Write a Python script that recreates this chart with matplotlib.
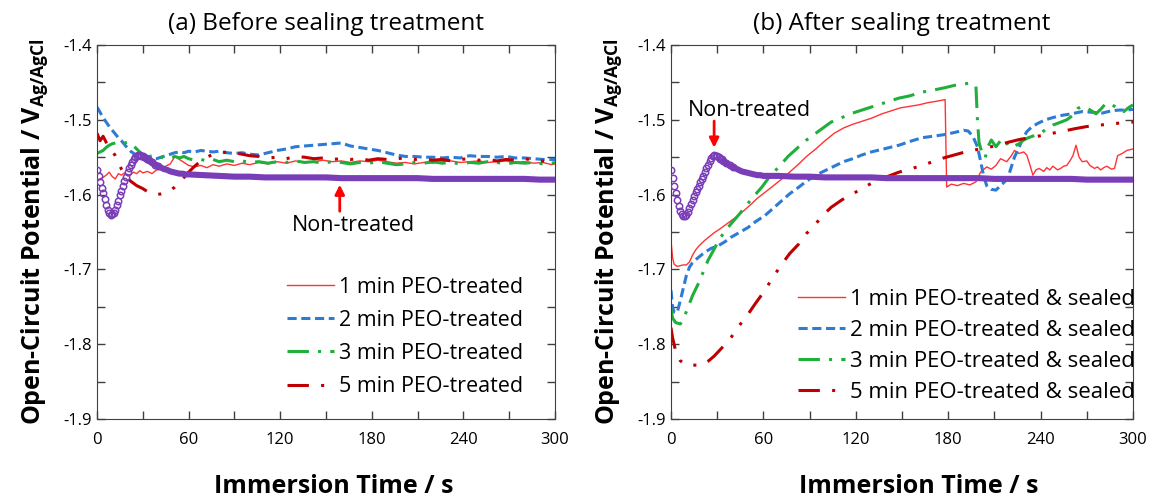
import matplotlib
matplotlib.use("Agg")
import matplotlib.pyplot as plt
from matplotlib.ticker import MultipleLocator

plt.rcParams['font.family'] = ['Open Sans', 'DejaVu Sans']
plt.rcParams['mathtext.default'] = 'regular'
plt.rcParams['axes.unicode_minus'] = False

# ---------------- (a) before sealing ----------------
t_left = [0, 2, 4, 6, 8, 10, 12, 14, 16, 18, 20, 22, 24, 26, 28, 30,
          33, 36, 39, 42, 45, 48, 51, 54, 57, 60, 64, 68, 72, 76, 80,
          85, 90, 95, 100, 106, 112, 118, 124, 130, 136, 142, 148, 154,
          160, 166, 172, 178, 184, 190, 196, 202, 208, 214, 220, 226,
          232, 238, 244, 250, 256, 262, 268, 274, 280, 286, 292, 298, 300]

left_1min = [-1.581, -1.579, -1.577, -1.574, -1.570, -1.576, -1.579, -1.572, -1.574, -1.571,
             -1.575, -1.573, -1.570, -1.572, -1.568, -1.571, -1.569, -1.572, -1.567, -1.565,
             -1.562, -1.559, -1.549, -1.553, -1.557, -1.561, -1.563, -1.561, -1.564, -1.560,
             -1.562, -1.559, -1.561, -1.558, -1.560, -1.557, -1.559, -1.556, -1.558, -1.555,
             -1.557, -1.556, -1.554, -1.556, -1.555, -1.557, -1.555, -1.556, -1.554, -1.556,
             -1.558, -1.557, -1.559, -1.557, -1.558, -1.556, -1.555, -1.557, -1.556, -1.555,
             -1.557, -1.556, -1.555, -1.557, -1.556, -1.558, -1.557, -1.560, -1.559]

left_2min = [-1.483, -1.490, -1.497, -1.503, -1.509, -1.514, -1.519, -1.524, -1.528, -1.533,
             -1.538, -1.542, -1.545, -1.547, -1.548, -1.549, -1.551, -1.552, -1.552, -1.550,
             -1.548, -1.546, -1.544, -1.543, -1.544, -1.542, -1.543, -1.541, -1.542, -1.543,
             -1.542, -1.544, -1.545, -1.544, -1.546, -1.547, -1.544, -1.541, -1.539, -1.536,
             -1.535, -1.534, -1.533, -1.532, -1.531, -1.535, -1.537, -1.539, -1.541, -1.544,
             -1.547, -1.549, -1.549, -1.550, -1.550, -1.551, -1.550, -1.551, -1.548, -1.549,
             -1.549, -1.550, -1.549, -1.551, -1.551, -1.552, -1.553, -1.553, -1.553]

left_3min = [-1.545, -1.543, -1.541, -1.537, -1.534, -1.532, -1.531, -1.532, -1.530, -1.531,
             -1.530, -1.531, -1.535, -1.539, -1.543, -1.547, -1.550, -1.548, -1.547, -1.550,
             -1.552, -1.551, -1.549, -1.551, -1.549, -1.552, -1.554, -1.553, -1.555, -1.553,
             -1.556, -1.554, -1.556, -1.555, -1.557, -1.556, -1.558, -1.556, -1.557, -1.555,
             -1.557, -1.556, -1.558, -1.556, -1.557, -1.559, -1.557, -1.558, -1.556, -1.558,
             -1.560, -1.559, -1.557, -1.558, -1.556, -1.558, -1.557, -1.559, -1.557, -1.558,
             -1.556, -1.557, -1.559, -1.557, -1.558, -1.557, -1.559, -1.558, -1.557]

left_5min = [-1.518, -1.528, -1.522, -1.530, -1.536, -1.542, -1.548, -1.556, -1.566, -1.573,
             -1.578, -1.582, -1.585, -1.588, -1.590, -1.592, -1.596, -1.599, -1.600, -1.599,
             -1.597, -1.594, -1.590, -1.584, -1.577, -1.570, -1.562, -1.555, -1.550, -1.546,
             -1.545, -1.543, -1.544, -1.546, -1.548, -1.549, -1.551, -1.550, -1.552, -1.549,
             -1.550, -1.552, -1.551, -1.553, -1.552, -1.553, -1.552, -1.554, -1.552, -1.553,
             -1.552, -1.551, -1.553, -1.552, -1.554, -1.553, -1.555, -1.553, -1.552, -1.554,
             -1.553, -1.555, -1.553, -1.554, -1.552, -1.554, -1.555, -1.555, -1.555]

# non-treated reference (purple circles)
t_nt = [0, 1, 2, 3, 4, 5, 6, 7, 8, 9, 10, 11, 12, 13, 14, 15, 16, 17, 18, 19,
        20, 21, 22, 23, 24, 25, 26, 27, 28, 29, 30, 31, 32, 33, 34,
        36, 38, 40, 42, 44, 46, 48, 50, 52, 54, 56, 58, 60,
        70, 80, 90, 100, 110, 120, 130, 140, 150, 160, 170, 180, 190, 200,
        210, 220, 230, 240, 250, 260, 270, 280, 290, 300]

left_nt = [-1.567, -1.575, -1.583, -1.591, -1.598, -1.606, -1.614, -1.620, -1.625, -1.627,
           -1.626, -1.624, -1.620, -1.614, -1.608, -1.601, -1.595, -1.588, -1.582, -1.576,
           -1.570, -1.565, -1.561, -1.557, -1.553, -1.550, -1.548, -1.547, -1.547, -1.548,
           -1.549, -1.550, -1.551, -1.553, -1.554,
           -1.557, -1.560, -1.562, -1.564, -1.566, -1.567, -1.569, -1.570, -1.571, -1.572,
           -1.572, -1.573, -1.573,
           -1.574, -1.575, -1.576, -1.576, -1.577, -1.577, -1.577, -1.577, -1.577, -1.578,
           -1.578, -1.578, -1.578, -1.578, -1.578, -1.579, -1.579, -1.579, -1.579, -1.579,
           -1.579, -1.579, -1.580, -1.580]

right_nt = [-1.567, -1.578, -1.588, -1.598, -1.607, -1.615, -1.622, -1.626, -1.628, -1.628,
            -1.627, -1.623, -1.618, -1.612, -1.607, -1.602, -1.597, -1.592, -1.588, -1.583,
            -1.579, -1.575, -1.570, -1.565, -1.560, -1.555, -1.551, -1.548, -1.547, -1.548,
            -1.549, -1.550, -1.552, -1.553, -1.555,
            -1.558, -1.561, -1.563, -1.565, -1.567, -1.569, -1.570, -1.571, -1.572, -1.573,
            -1.574, -1.574, -1.575,
            -1.575, -1.576, -1.576, -1.577, -1.577, -1.577, -1.577, -1.578, -1.578, -1.578,
            -1.578, -1.578, -1.578, -1.578, -1.579, -1.579, -1.579, -1.579, -1.579, -1.579,
            -1.580, -1.580, -1.580, -1.580]

# ---------------- (b) after sealing ----------------
t_r1 = [0, 1, 2, 4, 6, 8, 10, 12, 14, 16, 18, 20, 22, 25, 28, 31, 35, 39, 43, 47,
        52, 56, 61, 66, 72, 77, 83, 88, 94, 100, 106, 112, 118, 124, 130, 137, 143,
        149, 155, 161, 167, 173, 178, 179, 182, 186, 190, 194, 198, 201, 205, 208,
        211, 214, 218, 221, 223, 226, 229, 231, 233, 235, 237, 239, 242, 244, 246,
        248, 251, 253, 255, 257, 259, 261, 263, 265, 267, 270, 272, 275, 277, 279,
        281, 283, 286, 288, 290, 293, 296, 300]
right_1min = [-1.661, -1.684, -1.693, -1.696, -1.695, -1.694, -1.694, -1.690, -1.681, -1.674,
              -1.669, -1.665, -1.661, -1.656, -1.651, -1.647, -1.641, -1.635, -1.629, -1.622,
              -1.613, -1.605, -1.597, -1.589, -1.579, -1.570, -1.559, -1.549, -1.539, -1.528,
              -1.518, -1.511, -1.506, -1.502, -1.498, -1.492, -1.488, -1.484, -1.482, -1.480,
              -1.477, -1.475, -1.473, -1.590, -1.586, -1.588, -1.585, -1.587, -1.583, -1.570,
              -1.563, -1.566, -1.561, -1.552, -1.556, -1.548, -1.541, -1.545, -1.543, -1.547,
              -1.560, -1.574, -1.567, -1.565, -1.569, -1.564, -1.567, -1.562, -1.567, -1.565,
              -1.562, -1.561, -1.555, -1.548, -1.534, -1.550, -1.556, -1.555, -1.561, -1.565,
              -1.563, -1.567, -1.564, -1.562, -1.566, -1.565, -1.548, -1.545, -1.541, -1.539]

t_r2 = [0, 1, 2, 4, 6, 8, 10, 12, 14, 16, 19, 22, 26, 31, 35, 39, 45, 50, 55, 61,
        66, 72, 77, 83, 88, 94, 100, 106, 112, 118, 124, 130, 138, 148, 155, 163,
        170, 177, 184, 190, 193, 196, 199, 201, 203, 205, 208, 211, 214, 217, 219,
        221, 223, 226, 228, 231, 234, 238, 243, 248, 254, 260, 267, 274, 280, 286,
        291, 296, 300]
right_2min = [-1.728, -1.750, -1.757, -1.758, -1.742, -1.725, -1.708, -1.697, -1.691, -1.687,
              -1.682, -1.677, -1.672, -1.668, -1.663, -1.657, -1.650, -1.644, -1.636, -1.628,
              -1.619, -1.608, -1.599, -1.590, -1.582, -1.574, -1.568, -1.562, -1.556, -1.552,
              -1.547, -1.543, -1.539, -1.534, -1.529, -1.524, -1.522, -1.520, -1.517, -1.514,
              -1.515, -1.522, -1.536, -1.555, -1.575, -1.588, -1.593, -1.594, -1.588, -1.582,
              -1.576, -1.563, -1.550, -1.537, -1.527, -1.516, -1.510, -1.505, -1.500, -1.497,
              -1.494, -1.492, -1.489, -1.490, -1.491, -1.488, -1.487, -1.487, -1.486]

t_r3 = [0, 1, 3, 6, 8, 11, 14, 18, 21, 24, 28, 31, 35, 39, 44, 48, 53, 59, 64, 70,
        76, 83, 88, 94, 100, 104, 111, 118, 124, 130, 139, 148, 155, 163, 171, 178,
        184, 190, 195, 198, 199, 200, 202, 204, 206, 208, 211, 214, 216, 218, 220,
        223, 226, 229, 232, 236, 240, 244, 248, 252, 257, 261, 264, 267, 270, 273,
        276, 279, 282, 285, 288, 291, 294, 297, 300]
right_3min = [-1.753, -1.765, -1.771, -1.773, -1.767, -1.751, -1.735, -1.718, -1.703, -1.688,
              -1.673, -1.661, -1.649, -1.639, -1.627, -1.617, -1.604, -1.590, -1.576, -1.563,
              -1.549, -1.536, -1.527, -1.518, -1.509, -1.503, -1.497, -1.491, -1.487, -1.483,
              -1.477, -1.471, -1.468, -1.463, -1.460, -1.457, -1.454, -1.452, -1.451, -1.455,
              -1.500, -1.530, -1.545, -1.551, -1.535, -1.527, -1.536, -1.528, -1.525, -1.531,
              -1.537, -1.535, -1.532, -1.527, -1.524, -1.521, -1.518, -1.512, -1.507, -1.504,
              -1.500, -1.494, -1.485, -1.482, -1.484, -1.488, -1.492, -1.486, -1.479, -1.478,
              -1.482, -1.486, -1.489, -1.484, -1.480]

t_r5 = [0, 1, 3, 6, 9, 12, 16, 20, 24, 28, 33, 39, 44, 50, 55, 61, 66, 72, 77, 83,
        88, 94, 99, 104, 111, 118, 124, 130, 139, 148, 155, 163, 170, 177, 184, 191,
        198, 204, 212, 219, 227, 236, 245, 253, 262, 270, 279, 288, 294, 300]
right_5min = [-1.778, -1.791, -1.809, -1.822, -1.827, -1.828, -1.828, -1.828, -1.823, -1.816,
              -1.805, -1.791, -1.776, -1.760, -1.745, -1.728, -1.711, -1.693, -1.679, -1.666,
              -1.652, -1.639, -1.627, -1.617, -1.607, -1.599, -1.592, -1.585, -1.577, -1.570,
              -1.566, -1.561, -1.556, -1.551, -1.547, -1.543, -1.540, -1.538, -1.534, -1.530,
              -1.526, -1.523, -1.519, -1.516, -1.512, -1.509, -1.507, -1.505, -1.504, -1.503]

# line styles for the four PEO series
styles = [
    dict(color='#FF3333', lw=1.0, ls='-'),
    dict(color='#2E7BD6', lw=2.2, ls=(0, (3, 1.5))),
    dict(color='#1FAF3A', lw=2.2, ls=(0, (7, 3, 1, 3))),
    dict(color='#C00000', lw=2.2, ls=(0, (7, 4, 1, 4, 1, 4))),
]
purple = '#7A3DB8'
n_open = 34  # early points drawn as open circles only


def draw_non_treated(ax, tt, vals):
    # open circles where the points are spread out, thick band afterwards
    ax.plot(tt[:n_open + 4], vals[:n_open + 4], ls='none', marker='o', ms=4.6,
            mfc='none', mec=purple, mew=1.1, zorder=3)
    ax.plot(tt[n_open:], vals[n_open:], color=purple, lw=4.4,
            solid_capstyle='round', zorder=3)


def style_axes(ax, title, ylabel_text, xlab_pos):
    ax.set_xlim(0, 300)
    ax.set_ylim(-1.9, -1.4)
    ax.xaxis.set_major_locator(MultipleLocator(60))
    ax.xaxis.set_minor_locator(MultipleLocator(30))
    ax.yaxis.set_major_locator(MultipleLocator(0.1))
    ax.yaxis.set_minor_locator(MultipleLocator(0.05))
    ax.tick_params(which='both', direction='in', top=True, right=True,
                   length=6, width=1, color='#404040', labelsize=12)
    ax.tick_params(axis='x', pad=9)
    for sp in ax.spines.values():
        sp.set_color('#404040')
    ax.set_title(title, fontsize=17.5, pad=11)
    ax.set_xlabel('Immersion Time / s', fontsize=18, fontweight='bold')
    ax.xaxis.set_label_coords(xlab_pos, -0.148)
    ax.set_ylabel(ylabel_text, fontsize=18, fontweight='bold', labelpad=10)


fig = plt.figure(figsize=(11.53, 5.01), dpi=100)
ax1 = fig.add_axes([97 / 1153, 82 / 501, 458 / 1153, 374 / 501])
ax2 = fig.add_axes([671 / 1153, 82 / 501, 462 / 1153, 374 / 501])

ylab = 'Open-Circuit Potential / $\\mathregular{V_{Ag/AgCl}}$'

# panel (a)
labels_a = ['1 min PEO-treated', '2 min PEO-treated', '3 min PEO-treated', '5 min PEO-treated']
for vals, st, lab in zip([left_1min, left_2min, left_3min, left_5min], styles, labels_a):
    ax1.plot(t_left, vals, label=lab, **st)
draw_non_treated(ax1, t_nt, left_nt)
ax1.annotate('', xy=(159, -1.583), xytext=(159, -1.626),
             arrowprops=dict(arrowstyle='-|>', color='red', lw=2, mutation_scale=14))
ax1.text(168, -1.641, 'Non-treated', ha='center', va='center', fontsize=15.5)
style_axes(ax1, '(a) Before sealing treatment', ylab, 0.518)
ax1.legend(loc='upper left', bbox_to_anchor=(0.415, 0.380), frameon=False,
           fontsize=15.5, handlelength=2.2, handletextpad=0.2, labelspacing=0.56,
           borderpad=0, borderaxespad=0)

# panel (b)
labels_b = ['1 min PEO-treated & sealed', '2 min PEO-treated & sealed',
            '3 min PEO-treated & sealed', '5 min PEO-treated & sealed']
series_b = [(t_r1, right_1min), (t_r2, right_2min), (t_r3, right_3min), (t_r5, right_5min)]
for (tt, vals), st, lab in zip(series_b, styles, labels_b):
    ax2.plot(tt, vals, label=lab, **st)
draw_non_treated(ax2, t_nt, right_nt)
ax2.annotate('', xy=(28, -1.541), xytext=(28, -1.498),
             arrowprops=dict(arrowstyle='-|>', color='red', lw=2, mutation_scale=14))
ax2.text(51, -1.487, 'Non-treated', ha='center', va='center', fontsize=15.5)
style_axes(ax2, '(b) After sealing treatment', ylab, 0.536)
ax2.legend(loc='upper left', bbox_to_anchor=(0.274, 0.348), frameon=False,
           fontsize=16, handlelength=2.15, handletextpad=0.2, labelspacing=0.45,
           borderpad=0, borderaxespad=0)

fig.savefig('out.png', dpi=100)
